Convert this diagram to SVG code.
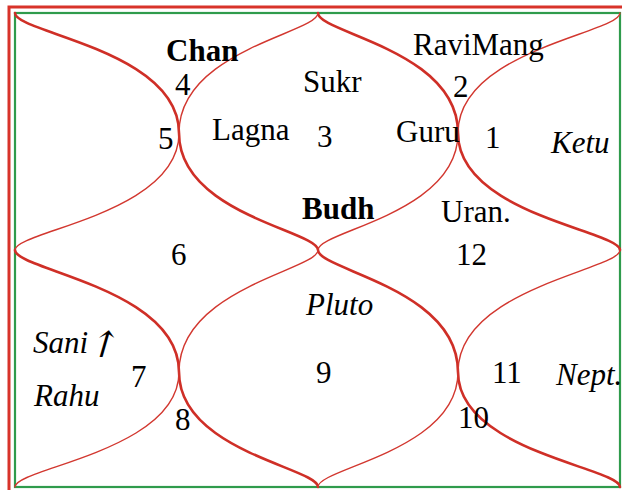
<svg xmlns="http://www.w3.org/2000/svg" width="622" height="490" viewBox="0 0 622 490">
<style>
text{font-family:"Liberation Serif","Times New Roman",serif;font-size:31px;fill:#000}
.b{font-weight:bold}
.i{font-style:italic}
.arr{font-family:"DejaVu Serif",serif;font-size:36px}
.thick{fill:none;stroke:#cf2f27;stroke-width:2.6;stroke-linecap:round;stroke-linejoin:round}
.thin{fill:none;stroke:#d2372f;stroke-width:1.4;stroke-linecap:round;stroke-linejoin:round}
</style>
<rect width="622" height="490" fill="#fff"/>
<g id="frame">
<rect x="9" y="7" width="625" height="495" fill="none" stroke="#d8332a" stroke-width="3"/>
<rect x="15" y="13" width="605" height="474" fill="none" stroke="#2f9b4c" stroke-width="2.2"/>
</g>
<g id="connectors">
<path class="thick" d="M15,13 C15,33 179,50 179,133 C179,214 318,231 318,250 C318,270 458,288 458,372 C458,451 620,468 620,487"/>
<path class="thick" d="M318,13 C318,33 458,50 458,133 C458,214 620,231 620,250"/>
<path class="thick" d="M15,250 C15,270 179,288 179,372 C179,451 318,468 318,487"/>
<path class="thin" d="M620,13 C620,33 458,50 458,133 C458,214 318,231 318,250 C318,270 179,288 179,372 C179,451 15,468 15,487"/>
<path class="thin" d="M318,13 C318,33 179,50 179,133 C179,214 15,231 15,250"/>
<path class="thin" d="M620,250 C620,270 458,288 458,372 C458,451 318,468 318,487"/>
</g>
<g id="house1"><text x="485" y="148">1</text><text class="i" x="551" y="153">Ketu</text></g>
<g id="house2"><text x="453" y="97">2</text><text x="413" y="55">RaviMang</text><text x="396" y="142">Guru</text></g>
<g id="house3"><text x="317" y="147">3</text><text x="303" y="92">Sukr</text><text x="212" y="140">Lagna</text></g>
<g id="house4"><text x="175" y="95">4</text><text class="b" x="166" y="61">Chan</text></g>
<g id="house5"><text x="158" y="149">5</text></g>
<g id="house6"><text x="171" y="265">6</text><text class="b" x="302" y="219">Budh</text></g>
<g id="house7"><text x="131" y="387">7</text><text class="i" x="33" y="353">Sani</text><text class="arr" transform="translate(86,357) skewX(-16)">↑</text><text class="i" x="34" y="406">Rahu</text></g>
<g id="house8"><text x="175" y="430">8</text></g>
<g id="house9"><text x="316" y="383">9</text><text class="i" x="306" y="315">Pluto</text></g>
<g id="house10"><text x="458" y="428">10</text></g>
<g id="house11"><text x="492" y="383">11</text><text class="i" x="556" y="385">Nept.</text></g>
<g id="house12"><text x="456" y="265">12</text><text x="441" y="222">Uran.</text></g>
</svg>
